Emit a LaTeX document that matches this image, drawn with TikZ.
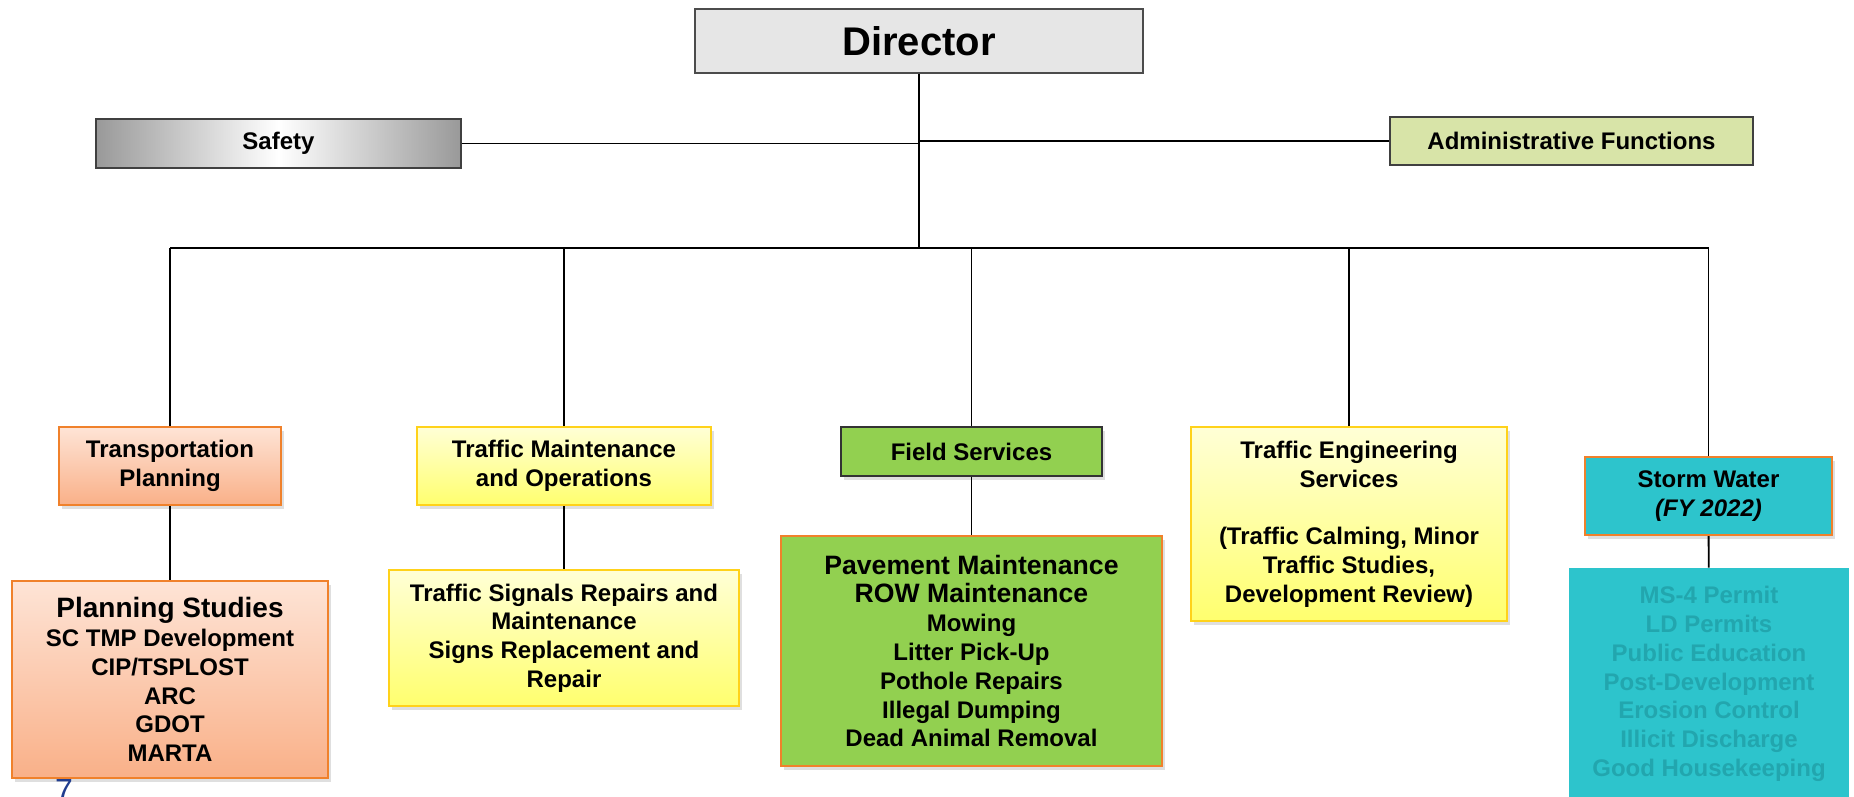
\documentclass[tikz,border=0pt]{standalone}
\usepackage{fontspec}
\setmainfont{Liberation Sans}
\usetikzlibrary{shadows}
\definecolor{dirgray}{HTML}{E6E6E6}
\definecolor{admgreen}{HTML}{D8E4A8}
\definecolor{peachtop}{HTML}{FEE4D6}
\definecolor{peachbot}{HTML}{F9B088}
\definecolor{orangeline}{HTML}{F0812B}
\definecolor{yellowtop}{HTML}{FFFFD6}
\definecolor{yellowbot}{HTML}{FFFF6E}
\definecolor{yellowline}{HTML}{FFD21A}
\definecolor{fieldgreen}{HTML}{92D050}
\definecolor{stormteal}{HTML}{2DC4CC}
\definecolor{stormtext}{HTML}{22A6AE}
\definecolor{pageblue}{HTML}{203D8F}

\begin{document}
\begin{tikzpicture}[x=0.5pt,y=-0.5pt,font=\bfseries\fontsize{12}{14.4}\selectfont]
\tikzset{
% Box styles for the chart, one per colour
box node/.style={rectangle,inner sep=0pt,align=center},
shadow node/.style={drop shadow={shadow xshift=1.5pt,shadow yshift=-2pt,opacity=0.25}},
gray node/.style={box node,draw=black!70,line width=0.6pt,fill=dirgray},
steel node/.style={box node,draw=black!75,line width=0.6pt,left color=black!40,right color=black!40,middle color=white},
lime node/.style={box node,draw=black!75,line width=0.6pt,fill=admgreen},
peach node/.style={box node,shadow node,draw=orangeline,line width=1pt,top color=peachtop,bottom color=peachbot},
yellow node/.style={box node,shadow node,draw=yellowline,line width=1pt,top color=yellowtop,bottom color=yellowbot},
green node/.style={box node,shadow node,draw=fieldgreen!60!black,line width=0.6pt,fill=fieldgreen},
teal node/.style={box node,shadow node,draw=orangeline,line width=1pt,fill=stormteal},
line/.style={draw=black,line width=0.9pt}
}
\useasboundingbox (0,0) rectangle (1854,797);
% Top of the chart
\node(0)[gray node,minimum width=224pt,minimum height=32pt,font=\bfseries\fontsize{20}{24}\selectfont] at (919,41) {Director};
\node(01)[steel node,minimum width=182.5pt,minimum height=24.5pt] at (278.5,143.5) {Safety};
\node(02)[lime node,minimum width=181.5pt,minimum height=24pt] at (1571.5,141) {Administrative Functions};
% Divisions
\node(1)[peach node,minimum width=111pt,minimum height=39pt] at (170,466) {Transportation\\Planning};
\node(2)[yellow node,minimum width=147pt,minimum height=39pt] at (564,466) {Traffic Maintenance\\and Operations};
\node(3)[green node,draw=black!80,minimum width=130.5pt,minimum height=24.5pt] at (971.5,451.5) {Field Services};
\node(4)[yellow node,minimum width=158pt,minimum height=97pt] at (1349,524) {Traffic Engineering\\Services\\[14.4pt](Traffic Calming, Minor\\Traffic Studies,\\Development Review)};
\node(5)[teal node,minimum width=123.5pt,minimum height=39pt] at (1708.5,496) {Storm Water\\\textit{(FY 2022)}};
% Duties of each division
\node(11)[peach node,minimum width=158pt,minimum height=98.5pt] at (170,679.5) {{\fontsize{14}{15.8}\selectfont Planning Studies}\\SC TMP Development\\CIP/TSPLOST\\ARC\\GDOT\\MARTA};
\node(21)[yellow node,minimum width=175pt,minimum height=68pt] at (564,638) {Traffic Signals Repairs and\\Maintenance\\Signs Replacement and\\Repair};
\node(31)[green node,draw=orangeline,line width=1pt,minimum width=190.5pt,minimum height=115pt] at (971.5,651) {{\fontsize{13.3}{15.8}\selectfont Pavement Maintenance}\\{\fontsize{13.3}{15.8}\selectfont ROW Maintenance}\\Mowing\\Litter Pick-Up\\Pothole Repairs\\Illegal Dumping\\Dead Animal Removal};
\node(51)[box node,fill=stormteal,text=stormtext,minimum width=140pt,minimum height=116pt] at (1709,684) {MS-4 Permit\\LD Permits\\Public Education\\Post-Development\\Erosion Control\\Illicit Discharge\\Good Housekeeping};
\node(p)[anchor=base,text=pageblue,font=\fontsize{16}{18}\selectfont] at (64,801) {7};
% Connectors
\coordinate(bus) at (919,248);
\draw[line] (01) -- (01 -| 0);
\draw[line] (02) -- (02 -| 0);
\draw[line] (0) -- (bus);
\draw[line] (1 |- bus) -- (5 |- bus);
\foreach \n in {1,...,5} \draw[line] (\n) -- (\n |- bus);
\foreach \n in {1,2,3,5} \draw[line] (\n) -- (\n1);
\end{tikzpicture}
\end{document}
